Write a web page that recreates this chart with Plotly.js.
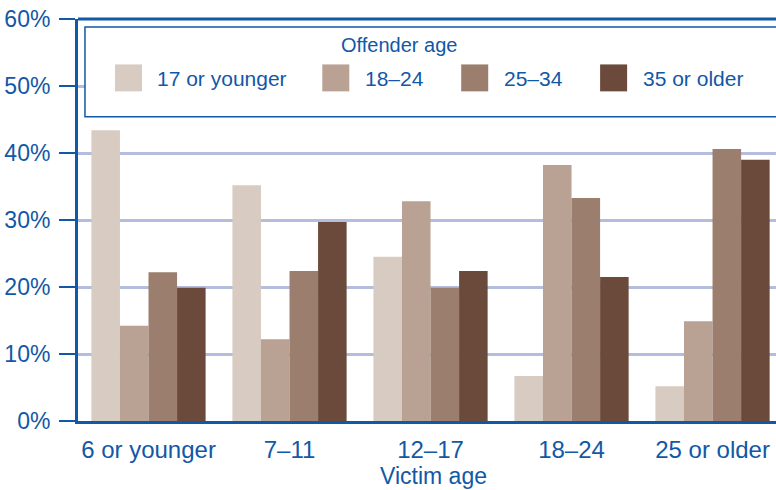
<!DOCTYPE html>
<html><head><meta charset="utf-8">
<script src="https://cdn.plot.ly/plotly-3.0.1.min.js"></script>
<style>html,body{margin:0;padding:0;background:#fff}#c{width:776px;height:490px}</style>
</head><body><div id="c"></div>
<script>
const categories = ['6 or younger', '7\u201311', '12\u201317', '18\u201324', '25 or older'];
const seriesNames = ['17 or younger', '18\u201324', '25\u201334', '35 or older'];
const s17 = [43.4, 35.2, 24.5, 6.7, 5.2];
const s18_24 = [14.2, 12.2, 32.8, 38.2, 14.9];
const s25_34 = [22.2, 22.4, 19.9, 33.3, 40.6];
const s35 = [19.9, 29.7, 22.4, 21.5, 39.0];
const colors = ['#d8cbc1', '#b9a193', '#9b7e6d', '#6b4a3c'];
const yTicks = [0, 10, 20, 30, 40, 50, 60];

const blue = '#1158a6';
const font = 'Liberation Sans, Arial, sans-serif';
const seriesVals = [s17, s18_24, s25_34, s35];

const traces = seriesVals.map((v, i) => ({
  type: 'bar', x: categories, y: v, name: seriesNames[i],
  marker: {color: colors[i], line: {width: 0}}, showlegend: false, hoverinfo: 'skip'
}));

// custom legend (boxed, extending past the right edge)
const legX = [0.053, 0.35, 0.549, 0.748];
const shapes = [
  {type: 'rect', xref: 'paper', yref: 'paper', x0: 0.01, x1: 1.05, y0: 0.757, y1: 0.98,
   line: {color: blue, width: 1.5}, fillcolor: '#ffffff', layer: 'above'},
  {type: 'line', xref: 'paper', yref: 'paper', x0: 0, x1: 1, y0: 1, y1: 1,
   line: {color: blue, width: 3}, layer: 'above'}
];
const annotations = [
  {xref: 'paper', yref: 'paper', x: 0.46, y: 0.935, text: 'Offender age', showarrow: false,
   font: {family: font, size: 20, color: blue}, xanchor: 'center', yanchor: 'middle'},
  {xref: 'paper', yref: 'paper', x: 0.51, y: -0.138, text: 'Victim age', showarrow: false,
   font: {family: font, size: 23, color: blue}, xanchor: 'center', yanchor: 'middle'}
];
seriesNames.forEach((n, i) => {
  shapes.push({type: 'rect', xref: 'paper', yref: 'paper', x0: legX[i], x1: legX[i] + 0.0387,
    y0: 0.82, y1: 0.887, line: {width: 0}, fillcolor: colors[i], layer: 'above'});
  annotations.push({xref: 'paper', yref: 'paper', x: legX[i] + 0.058, y: 0.853, text: n,
    showarrow: false, xanchor: 'left', yanchor: 'middle',
    font: {family: font, size: 21, color: blue}});
});

const layout = {
  width: 776, height: 490,
  margin: {l: 78, r: 0, t: 19, b: 69},
  paper_bgcolor: '#ffffff', plot_bgcolor: '#ffffff',
  barmode: 'group', bargap: 0.19, bargroupgap: 0,
  font: {family: font, color: blue},
  xaxis: {
    range: [-0.5, 4.45], showgrid: false, showline: true, linecolor: blue, linewidth: 3,
    ticks: '', tickfont: {family: font, size: 24, color: blue}, ticklabelstandoff: 5,
    fixedrange: true, zeroline: false
  },
  yaxis: {
    range: [0, 60], tickvals: yTicks, ticktext: yTicks.map(v => v + '%'),
    showgrid: true, gridcolor: '#b4bddd', gridwidth: 3,
    showline: true, linecolor: blue, linewidth: 3,
    ticks: 'outside', ticklen: 16, tickwidth: 2, tickcolor: blue,
    tickfont: {family: font, size: 23, color: blue}, ticklabelstandoff: 4,
    zeroline: false, fixedrange: true
  },
  shapes: shapes, annotations: annotations, showlegend: false
};
Plotly.newPlot('c', traces, layout, {staticPlot: true});
</script></body></html>
